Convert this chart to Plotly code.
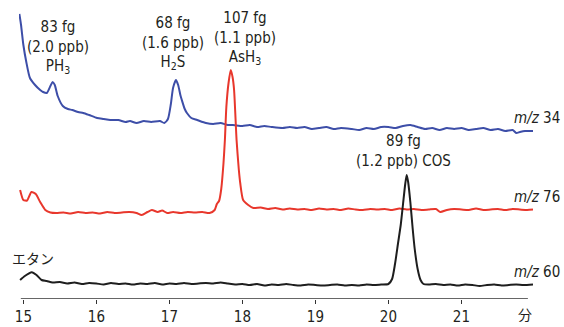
import plotly.graph_objects as go

# retention time (min) and signal (arbitrary units, offset per channel)
blue_t = [14.945, 14.968, 15.00, 15.04, 15.09, 15.16, 15.23, 15.27, 15.32, 15.37, 15.40, 15.43, 15.47, 15.54,
          15.61, 15.67, 15.75, 15.82, 15.90, 16.01, 16.10, 16.19, 16.30, 16.40, 16.46, 16.55, 16.65, 16.75,
          16.87, 16.93, 16.98, 17.02, 17.05, 17.09, 17.12, 17.15, 17.17, 17.21, 17.24, 17.30, 17.38, 17.50,
          17.60, 17.70, 17.80, 17.87, 18.00, 18.10, 18.20, 18.30, 18.40, 18.55, 18.65, 18.75, 18.85, 18.95,
          19.05, 19.15, 19.25, 19.35, 19.50, 19.60, 19.70, 19.80, 19.90, 20.00, 20.10, 20.20, 20.30, 20.40,
          20.50, 20.60, 20.70, 20.80, 20.90, 21.00, 21.10, 21.20, 21.30, 21.40, 21.50, 21.60, 21.70, 21.75,
          21.80, 21.87, 21.98]
blue_v = [285, 274, 254, 237, 221, 214, 209, 207, 206, 213, 217, 214, 203, 193,
          190, 189, 187, 186, 184, 181, 180, 179, 179, 177, 178, 176, 178, 177,
          178, 176, 180, 195, 211, 219, 214, 204, 199, 190, 186, 181, 179, 176,
          175, 176, 174, 174, 173, 174, 172, 173, 172, 171, 172, 171, 172, 170,
          171, 172, 170, 171, 170, 169, 171, 170, 172, 172, 171, 173, 174, 172,
          170, 171, 169, 171, 170, 171, 169, 170, 171, 169, 170, 168, 169, 166,
          167, 168, 168]

red_t = [14.955, 15.00, 15.05, 15.11, 15.17, 15.23, 15.30, 15.37, 15.45, 15.55, 15.65, 15.75, 15.85, 15.95,
         16.05, 16.15, 16.25, 16.35, 16.45, 16.55, 16.62, 16.70, 16.76, 16.84, 16.90, 16.97, 17.05, 17.15,
         17.25, 17.35, 17.45, 17.55, 17.62, 17.65, 17.68, 17.71, 17.74, 17.76, 17.78, 17.81, 17.84, 17.865,
         17.886, 17.92, 17.95, 17.97, 18.01, 18.08, 18.15, 18.25, 18.35, 18.45, 18.55, 18.65, 18.75, 18.85,
         18.95, 19.05, 19.15, 19.25, 19.35, 19.45, 19.55, 19.65, 19.75, 19.85, 19.95, 20.05, 20.15, 20.25,
         20.35, 20.45, 20.55, 20.65, 20.71, 20.80, 20.90, 21.00, 21.10, 21.20, 21.30, 21.40, 21.50, 21.60,
         21.70, 21.80, 21.90, 21.98]
red_v = [109, 99, 98.5, 107, 105, 97, 89, 86.5, 86, 86.5, 85.5, 87, 86, 86.5,
         85.5, 87, 86, 86.5, 87, 86, 84, 87, 89, 87, 88.5, 86, 87, 86,
         87, 86.5, 87, 86, 89, 95, 98, 110, 135, 159, 192, 216, 229, 222,
         209, 159, 130, 116, 99, 94, 91, 91.5, 90, 91, 89.5, 90.5, 89.5, 90,
         89, 90.5, 89.5, 90, 89, 90.5, 89.5, 89, 90, 89.5, 90, 89, 90.5, 89.5,
         90, 89, 89.5, 90, 87, 89, 90, 89.5, 89, 90.5, 89, 89.5, 90, 89,
         90, 89.5, 89, 89.5]

black_t = [14.955, 15.02, 15.115, 15.18, 15.25, 15.32, 15.40, 15.50, 15.60, 15.70, 15.80, 15.90, 16.00, 16.10,
           16.20, 16.30, 16.40, 16.50, 16.60, 16.70, 16.80, 16.90, 17.00, 17.10, 17.20, 17.30, 17.40, 17.50,
           17.60, 17.70, 17.80, 17.90, 18.00, 18.10, 18.20, 18.30, 18.40, 18.50, 18.60, 18.70, 18.80, 18.90,
           19.00, 19.10, 19.20, 19.30, 19.40, 19.50, 19.60, 19.70, 19.80, 19.90, 20.00, 20.05, 20.09, 20.13,
           20.17, 20.20, 20.23, 20.25, 20.27, 20.30, 20.33, 20.36, 20.40, 20.44, 20.48, 20.55, 20.65, 20.75,
           20.85, 20.95, 21.05, 21.15, 21.25, 21.35, 21.45, 21.55, 21.65, 21.75, 21.85, 21.98]
black_v = [19, 23, 26.7, 24, 19, 18, 16.5, 17, 15.5, 16.5, 15, 16, 15.5, 14.5,
           16, 15, 15.5, 14.5, 15.5, 15, 16, 14.5, 15.5, 15, 16, 15, 15.5, 16,
           15.5, 16.5, 15.5, 14.5, 15, 14, 15, 13.5, 14.5, 14, 15, 14, 13.5, 14.5,
           14, 13.5, 14, 14.5, 13.5, 14, 13.5, 14.5, 14, 14.5, 15, 20, 35, 55,
           75, 95, 115, 124, 117, 97, 72, 50, 30, 19, 15, 14.5, 15, 14,
           14.5, 13.5, 14.5, 14, 13, 14, 14.5, 13.5, 14, 14.5, 14, 14.5]

tick_vals = [15, 16, 17, 18, 19, 20, 21]
tick_text = ["15", "16", "17", "18", "19", "20", "21"]

FONT = "Liberation Sans Narrow, DejaVu Sans Condensed, Arial Narrow, sans-serif"
TXT = "#231f20"

fig = go.Figure()
fig.add_trace(go.Scatter(x=blue_t, y=blue_v, mode="lines", hoverinfo="skip",
                         line=dict(color="#3d4ea8", width=2, shape="spline", smoothing=0.6)))
fig.add_trace(go.Scatter(x=red_t, y=red_v, mode="lines", hoverinfo="skip",
                         line=dict(color="#e8372c", width=2, shape="spline", smoothing=0.6)))
fig.add_trace(go.Scatter(x=black_t, y=black_v, mode="lines", hoverinfo="skip",
                         line=dict(color="#1e1e1e", width=2, shape="spline", smoothing=0.6)))

ann = []
def add(text, x, y, xanchor="center", size=15, font=FONT, xref="x", yref="y"):
    ann.append(dict(text=text, x=x, y=y, xref=xref, yref=yref, xanchor=xanchor, yanchor="middle",
                    showarrow=False, font=dict(family=font, size=size, color=TXT)))

add("83 fg<br>(2.0 ppb)<br>PH<sub>3</sub>", 15.48, 252)
add("68 fg<br>(1.6 ppb)<br>H<sub>2</sub>S", 17.05, 256)
add("107 fg<br>(1.1 ppb)<br>AsH<sub>3</sub>", 18.04, 261)
add("89 fg<br>(1.2 ppb) COS", 20.21, 148)
add("<i>m/z</i> 34", 1.0558, 181, xanchor="right", xref="paper")
add("<i>m/z</i> 76", 1.0558, 102, xanchor="right", xref="paper")
add("<i>m/z</i> 60", 1.0558, 27, xanchor="right", xref="paper")
add("エタン", 15.13, 41, size=14, font="Noto Sans CJK JP")
add("分", 0.9844, -0.05, size=14, font="Noto Sans CJK JP", xref="paper", yref="paper")

fig.update_layout(
    width=564, height=327,
    margin=dict(l=19, r=31, t=0, b=28, autoexpand=False),
    paper_bgcolor="white", plot_bgcolor="white",
    showlegend=False,
    hovermode=False,
    annotations=ann,
    shapes=[dict(type="line", xref="x", yref="y", x0=14.965, x1=21.91, y0=0, y1=0,
                 line=dict(color="#333333", width=1.3))],
    xaxis=dict(range=[14.94, 21.98], showline=False, showgrid=False, zeroline=False,
               tickmode="array", tickvals=tick_vals, ticktext=tick_text,
               ticks="outside", ticklen=4, tickwidth=1.2, tickcolor="#333333",
               tickfont=dict(family=FONT, size=15, color=TXT)),
    yaxis=dict(range=[0, 299], visible=False),
)

fig.write_html("out.html", config={"displayModeBar": False},
               post_script="document.body.style.margin='0';document.body.style.overflow='hidden';")
